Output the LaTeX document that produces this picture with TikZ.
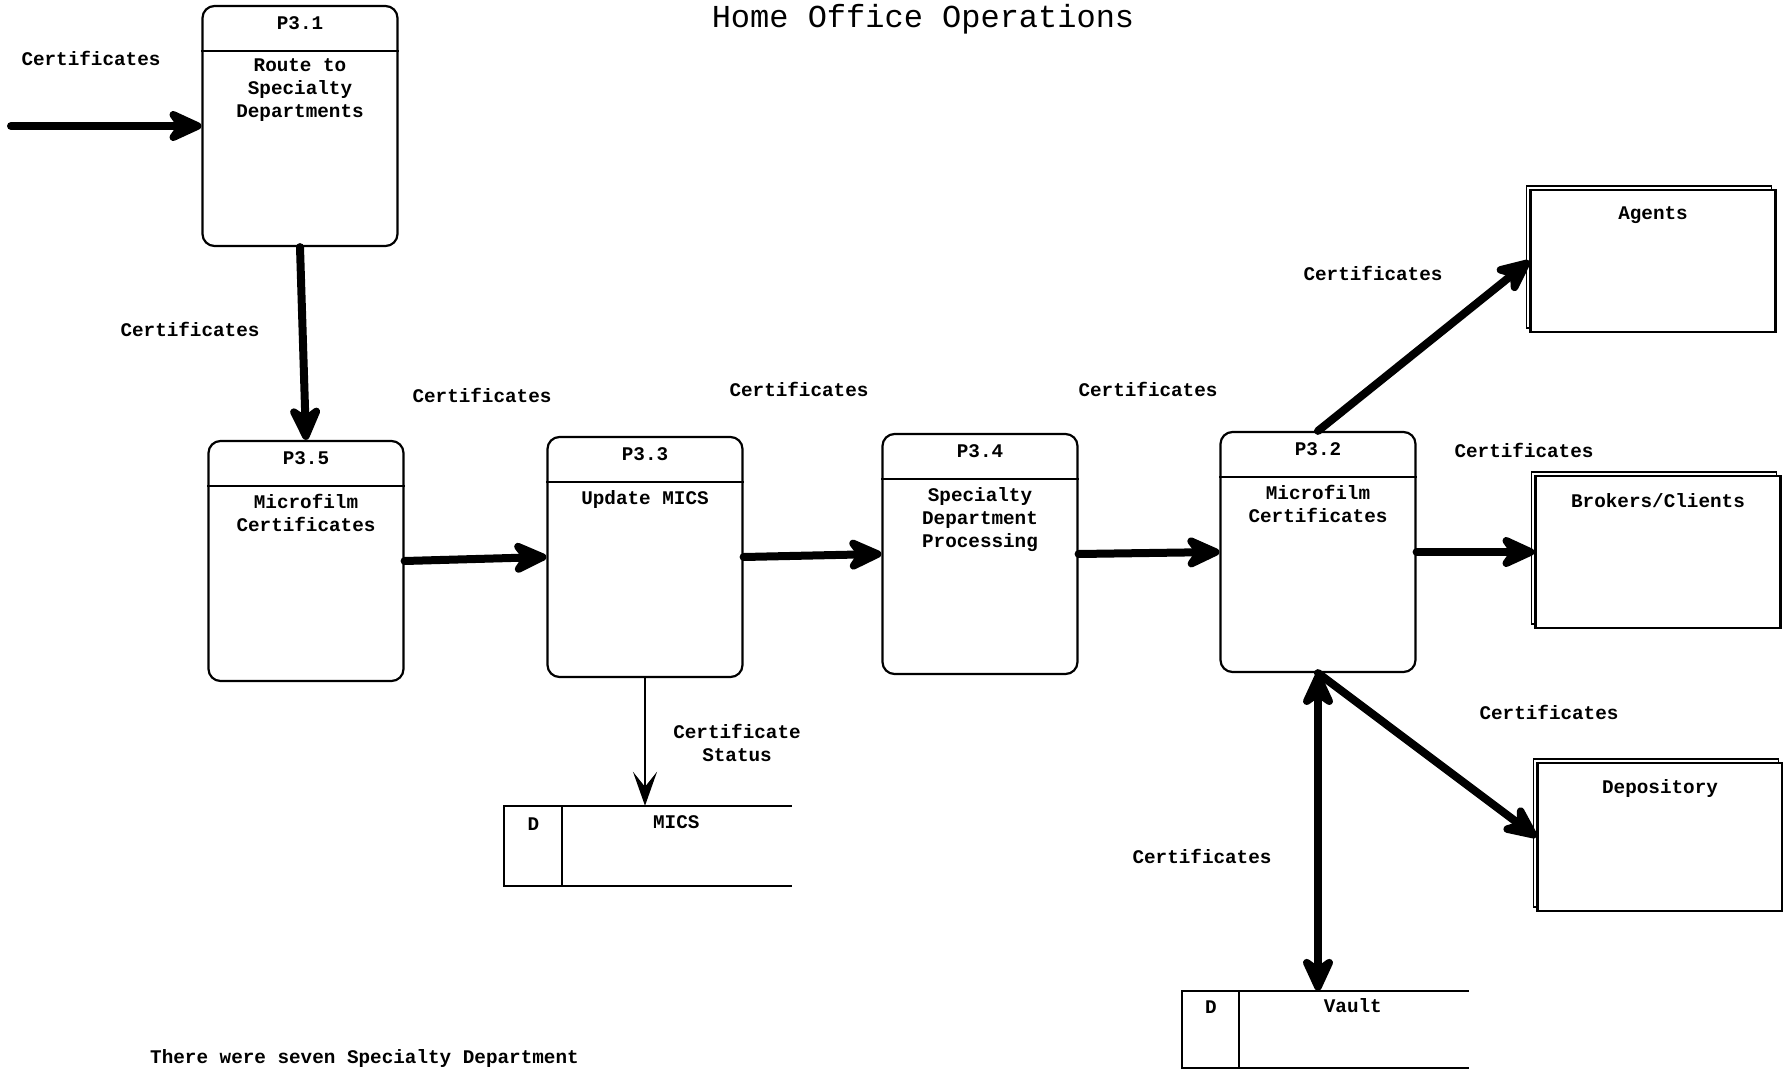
\documentclass[tikz,border=0pt]{standalone}
\usepackage{fontspec}
\setmonofont{Liberation Mono}
\usetikzlibrary{arrows.meta, positioning, shadows}
\newcommand{\dfdfont}{\ttfamily\bfseries\fontsize{19.3}{23}\selectfont}
\newcommand{\titlefont}{\ttfamily\fontsize{32}{36}\selectfont}
\tikzset{
  proc/.style = {draw, rounded corners=12pt, line width=2.2pt,
    minimum width=195pt, minimum height=240pt, inner sep=0pt},
  ext/.style = {draw, fill=white, line width=2.2pt, minimum width=245pt,
    inner sep=0pt, copy shadow={shadow xshift=-4pt, shadow yshift=4pt,
    line width=1.6pt}},
  store/.style = {minimum width=287pt, minimum height=80pt, inner sep=0pt},
  lbl/.style = {font=\dfdfont, align=center, inner sep=0pt},
  flow/.style = {line width=8pt, line cap=round, ->},
  thinflow/.style = {line width=2pt,
    -{Stealth[length=34pt, width=24pt, inset=15pt]}}
}

\begin{document}
\begin{tikzpicture}[x=1pt, y=-1pt,
  >={Stealth[length=44pt, width=40pt, inset=14pt, round]}]
\useasboundingbox (0,0) rectangle (1783,1070);
\clip (0,0) rectangle (1783,1070);
\fill [white] (0,0) rectangle (1783,1070);

\node [font=\titlefont, anchor=base] (title) at (923,28) {Home Office Operations};

% processes
\node [proc] (p31) at (300,126) {};
\node [proc] (p35) at (306,561) {};
\node [proc] (p33) at (645,557) {};
\node [proc] (p34) at (980,554) {};
\node [proc] (p32) at (1318,552) {};
\foreach \p in {p31,p35,p33,p34,p32}
  \draw [line width=2pt] ([yshift=-46pt]\p.north west) -- ([yshift=-46pt]\p.north east);

\node [lbl, below=11pt of p31.north] (p31id) {P3.1};
\node [lbl, below=54pt of p31.north] (p31txt) {Route to\\Specialty\\Departments};
\node [lbl, below=11pt of p35.north] (p35id) {P3.5};
\node [lbl, below=54pt of p35.north] (p35txt) {Microfilm\\Certificates};
\node [lbl, below=11pt of p33.north] (p33id) {P3.3};
\node [lbl, below=54pt of p33.north] (p33txt) {Update MICS};
\node [lbl, below=11pt of p34.north] (p34id) {P3.4};
\node [lbl, below=54pt of p34.north] (p34txt) {Specialty\\Department\\Processing};
\node [lbl, below=11pt of p32.north] (p32id) {P3.2};
\node [lbl, below=54pt of p32.north] (p32txt) {Microfilm\\Certificates};

% external entities
\node [ext, minimum height=142pt] (agents) at (1653,261) {};
\node [lbl, below=18pt of agents.north] (agentstxt) {Agents};
\node [ext, minimum height=152pt] (brokers) at (1658,552) {};
\node [lbl, below=18pt of brokers.north] (brokerstxt) {Brokers/Clients};
\node [ext, minimum height=148pt] (depos) at (1660,837) {};
\node [lbl, below=17pt of depos.north] (depostxt) {Depository};

% data stores
\node [store] (mics) at (648,846) {};
\draw [line width=2pt] (mics.north east) -- (mics.north west) -- (mics.south west) -- (mics.south east);
\draw [line width=2pt] ([xshift=58pt]mics.north west) -- ([xshift=58pt]mics.south west);
\node [lbl] (micsd) at ([xshift=29pt, yshift=-18pt]mics.north west) {D};
\node [lbl] (micstxt) at ([xshift=172pt, yshift=-16pt]mics.north west) {MICS};

\node [store, minimum height=77pt] (vault) at (1325.5,1029.5) {};
\draw [line width=2pt] (vault.north east) -- (vault.north west) -- (vault.south west) -- (vault.south east);
\draw [line width=2pt] ([xshift=57pt]vault.north west) -- ([xshift=57pt]vault.south west);
\node [lbl] (vaultd) at ([xshift=29pt, yshift=-16pt]vault.north west) {D};
\node [lbl] (vaulttxt) at ([xshift=171pt, yshift=-15pt]vault.north west) {Vault};

% flows
\coordinate (src) at (11,126);
\draw [flow] (src) -- (p31.west);
\draw [flow] (p31.south) -- (p35.north);
\draw [flow] (p35.east) -- (p33.west);
\draw [flow] (p33.east) -- (p34.west);
\draw [flow] (p34.east) -- (p32.west);
\draw [flow] (p32.north) -- (agents.west);
\draw [flow] (p32.east) -- (brokers.west);
\draw [flow] (p32.south) -- (depos.west);
\draw [flow, <->] (p32.south) -- (p32.south |- vault.north);
\draw [thinflow] (p33.south) -- (p33.south |- mics.north);

\node [lbl] (l1) at (91,58) {Certificates};
\node [lbl] (l2) at (190,329) {Certificates};
\node [lbl] (l3) at (482,395) {Certificates};
\node [lbl] (l4) at (799,389) {Certificates};
\node [lbl] (l5) at (1148,389) {Certificates};
\node [lbl] (l6) at (1373,273) {Certificates};
\node [lbl] (l7) at (1524,450) {Certificates};
\node [lbl] (l8) at (1549,712) {Certificates};
\node [lbl] (l9) at (1202,856) {Certificates};
\node [lbl] (l10) at (737,743) {Certificate\\Status};

\node [lbl, anchor=base west] (note) at (150,1063) {There were seven Specialty Department};
\end{tikzpicture}
\end{document}
